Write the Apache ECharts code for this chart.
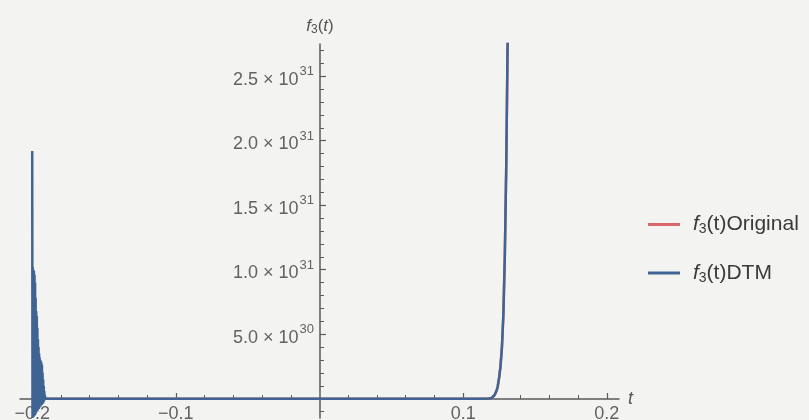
<!DOCTYPE html>
<html>
<head>
<meta charset="utf-8">
<script src="https://cdn.jsdelivr.net/npm/echarts@6/dist/echarts.min.js"></script>
<style>
html,body{margin:0;padding:0;background:#f3f3f1;}
#c{width:809px;height:420px;}
</style>
</head>
<body>
<div id="c"></div>
<script>
// ---- data (y values in units of 1e30) ----
var tDTM = [
  -0.2000, -0.1998, -0.1996, -0.1994, -0.1992, -0.1990, -0.1988, -0.1986, -0.1984, -0.1982,
  -0.1980, -0.1978, -0.1976, -0.1974, -0.1972, -0.1970, -0.1968, -0.1966, -0.1964, -0.1962,
  -0.1960, -0.1958, -0.1956, -0.1954, -0.1952, -0.1950, -0.1948, -0.1946, -0.1944, -0.1942,
  -0.1940, -0.1938, -0.1936, -0.1934, -0.1932, -0.1930, -0.1928, -0.1926, -0.1924, -0.1922,
  -0.1920, -0.1918, -0.1916, -0.1914, -0.1912, -0.1910, -0.1900, -0.1500, -0.1000, -0.0500,
  0.0000, 0.0500, 0.1000, 0.1100, 0.1180, 0.1200, 0.1210, 0.1220, 0.1230, 0.1240,
  0.1250, 0.1260, 0.1270, 0.1280, 0.1290, 0.1300, 0.1310, 0.1320
];
var yDTM = [
  19.2, -1.5, 10.2, -1.4, 10.0, -1.4, 9.9, -1.3, 9.6, -1.3,
  9.0, -1.2, 7.8, -1.1, 6.8, -1.0, 6.4, -1.0, 5.5, -0.9,
  4.6, -0.8, 4.0, -0.8, 3.5, -0.7, 3.2, -0.6, 3.0, -0.6,
  2.9, -0.5, 2.8, -0.5, 2.6, -0.4, 2.0, -0.4, 1.5, -0.3,
  1.0, -0.2, 0.6, -0.1, 0.3, 0.0, 0.0, 0.0, 0.0, 0.0,
  0.0, 0.0, 0.0, 0.0, 0.01, 0.06, 0.15, 0.3, 0.55, 0.9,
  1.6, 2.5, 4.0, 6.5, 11.0, 18.0, 28.0, 40.0
];
var tOrig = [-0.2000, -0.1000, 0.0000, 0.1000, 0.1100, 0.1180, 0.1200, 0.1210, 0.1220, 0.1230, 0.1240,
  0.1250, 0.1260, 0.1270, 0.1280, 0.1290, 0.1300, 0.1310, 0.1320];
var yOrig = [0.0, 0.0, 0.0, 0.0, 0.0, 0.01, 0.06, 0.15, 0.3, 0.55, 0.9,
  1.6, 2.5, 4.0, 6.5, 11.0, 18.0, 28.0, 40.0];

var seriesNames = ['f3(t)Original', 'f3(t)DTM'];
var xMajorTicks = [-0.2, -0.1, 0.1, 0.2];
var xLabelValues = [-0.2, -0.1, 0.1, 0.2];
var xLabelTexts = ['\u22120.2', '\u22120.1', '0.1', '0.2'];
var xMinorTicks = [-0.18, -0.16, -0.14, -0.12, -0.08, -0.06, -0.04, -0.02,
  0.02, 0.04, 0.06, 0.08, 0.12, 0.14, 0.16, 0.18];
var yMajorTicks = [5, 10, 15, 20, 25];
var yLabelMant = ['5.0', '1.0', '1.5', '2.0', '2.5'];
var yLabelExp = ['30', '31', '31', '31', '31'];
var yMinorTicks = [-1, 1, 2, 3, 4, 6, 7, 8, 9, 11, 12, 13, 14, 16, 17, 18, 19, 21, 22, 23, 24, 26, 27];

function pairs(t, y) { return t.map(function (v, i) { return [v, y[i]]; }); }

var X_MIN = -0.2085, X_MAX = 0.2085, Y_MIN = -1.5, Y_MAX = 27.5;
// layout (pixels)
var G_LEFT = 20, G_W = 599, G_TOP = 44, G_H = 374;
var Y_AXIS_OFFSET = -300;   // moves the y axis to t = 0
var X_AXIS_OFFSET = -19;    // moves the x axis to f = 0
var axisColor = '#5a5a5a';
var labelColor = '#626262';
var font = 'Liberation Sans, Arial, sans-serif';

var chart = echarts.init(document.getElementById('c'), null, {renderer: 'canvas'});
var option = {
  backgroundColor: '#f3f3f1',
  animation: false,
  textStyle: {fontFamily: font},
  grid: {left: G_LEFT, width: G_W, top: G_TOP, height: G_H, containLabel: false, outerBoundsMode: 'none'},
  legend: {
    orient: 'vertical', left: 643, top: 209,
    itemWidth: 32, itemHeight: 3, itemGap: 26,
    icon: 'rect',
    data: seriesNames,
    textStyle: {
      fontSize: 21, color: '#3a3a3a', fontFamily: font,
      rich: {
        i: {fontSize: 21, fontStyle: 'italic', color: '#3a3a3a', fontFamily: font, padding: [0, 0, 0, 8]},
        s: {fontSize: 14, color: '#3a3a3a', padding: [10, 0, 0, 0], fontFamily: font},
        n: {fontSize: 21, color: '#3a3a3a', fontFamily: font}
      }
    },
    formatter: function (name) {
      return '{i|f}{s|3}{n|' + name.slice(2) + '}';
    }
  },
  xAxis: [{
    type: 'value', min: X_MIN, max: X_MAX, position: 'bottom', offset: X_AXIS_OFFSET,
    axisLine: {show: true, onZero: false, lineStyle: {color: axisColor, width: 1.5}},
    axisTick: {show: true, inside: true, length: 6, customValues: xMajorTicks, lineStyle: {color: axisColor, width: 1.2}},
    axisLabel: {
      show: true, customValues: xLabelValues, margin: 6, color: labelColor, fontSize: 18, fontFamily: font,
      formatter: function (v) { var i = xLabelValues.indexOf(+(+v).toFixed(4)); return i >= 0 ? xLabelTexts[i] : ''; }
    },
    splitLine: {show: false},
    name: 't', nameLocation: 'end', nameGap: 9,
    nameTextStyle: {fontSize: 18, fontStyle: 'italic', color: '#555', fontFamily: font}
  }, {
    type: 'value', min: X_MIN, max: X_MAX, position: 'bottom', offset: X_AXIS_OFFSET,
    axisLine: {show: false, onZero: false},
    axisTick: {show: true, inside: true, length: 4, customValues: xMinorTicks, lineStyle: {color: axisColor, width: 1}},
    axisLabel: {show: false},
    splitLine: {show: false}
  }],
  yAxis: [{
    type: 'value', min: Y_MIN, max: Y_MAX, position: 'left', offset: Y_AXIS_OFFSET,
    axisLine: {show: true, onZero: false, lineStyle: {color: axisColor, width: 1.5}},
    axisTick: {show: true, inside: true, length: 6, customValues: yMajorTicks, lineStyle: {color: axisColor, width: 1.2}},
    axisLabel: {
      show: true, customValues: yMajorTicks, margin: 6, color: labelColor, fontSize: 18, fontFamily: font,
      formatter: function (v) {
        var i = yMajorTicks.indexOf(Math.round(v));
        if (i < 0) return '';
        return '{m|' + yLabelMant[i] + ' \u00d7 10}{e|' + yLabelExp[i] + '}';
      },
      rich: {
        m: {fontSize: 18, color: labelColor, fontFamily: font, padding: [7, 0, 0, 0]},
        e: {fontSize: 13, color: labelColor, fontFamily: font, padding: [0, 0, 9, 1]}
      }
    },
    splitLine: {show: false},
    name: '{i|f}{s|3}{n|(}{i|t}{n|)}', nameLocation: 'end', nameGap: 8,
    nameTextStyle: {
      fontSize: 17, color: '#555', fontFamily: font, align: 'center',
      rich: {
        i: {fontSize: 17, fontStyle: 'italic', color: '#555', fontFamily: font},
        s: {fontSize: 12, color: '#555', padding: [8, 0, 0, 0], fontFamily: font},
        n: {fontSize: 17, color: '#555', fontFamily: font}
      }
    }
  }, {
    type: 'value', min: Y_MIN, max: Y_MAX, position: 'left', offset: Y_AXIS_OFFSET,
    axisLine: {show: false, onZero: false},
    axisTick: {show: true, inside: true, length: 4, customValues: yMinorTicks, lineStyle: {color: axisColor, width: 1}},
    axisLabel: {show: false},
    splitLine: {show: false}
  }],
  series: [{
    name: seriesNames[0], type: 'line', xAxisIndex: 0, yAxisIndex: 0,
    data: pairs(tOrig, yOrig), showSymbol: false, symbol: 'none', clip: true,
    lineStyle: {color: '#d9666b', width: 2.5}, itemStyle: {color: '#d9666b'}, z: 3
  }, {
    name: seriesNames[1], type: 'line', xAxisIndex: 0, yAxisIndex: 0,
    data: pairs(tDTM, yDTM), showSymbol: false, symbol: 'none', clip: true,
    lineStyle: {color: '#3f6493', width: 2.5}, itemStyle: {color: '#3f6493'}, z: 4
  }]
};
chart.setOption(option);
</script>
</body>
</html>
